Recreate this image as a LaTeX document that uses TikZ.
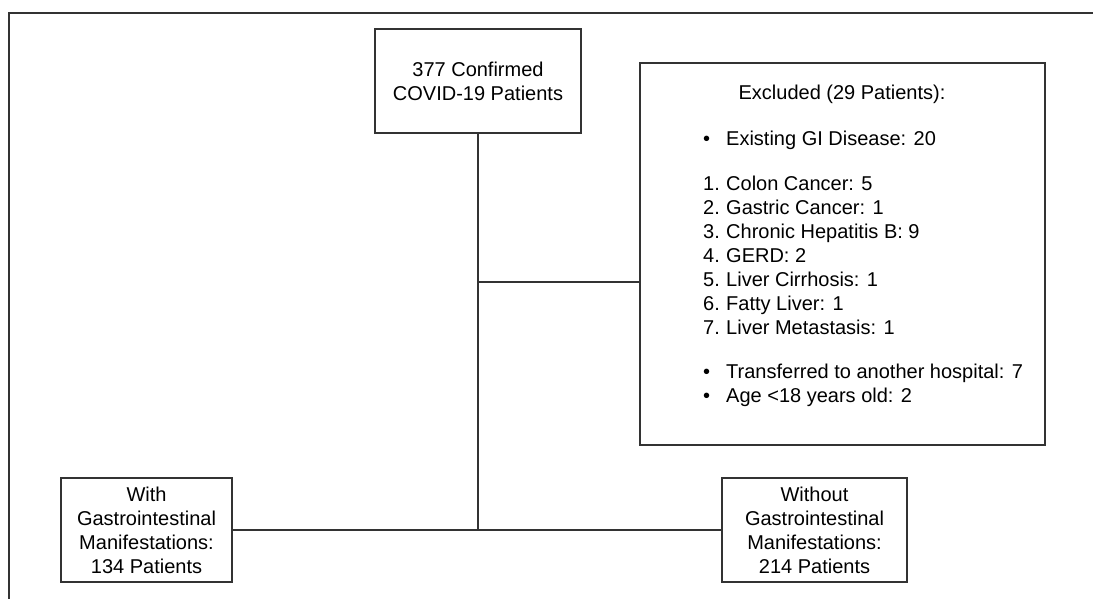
\documentclass[tikz,border=0pt]{standalone}
\usepackage{fontspec}
\setmainfont{Liberation Sans}
\usetikzlibrary{positioning,calc}
\definecolor{linegray}{HTML}{333333}
\tikzset{
  box/.style={draw=linegray,line width=1.2pt,align=center,inner sep=2pt,font=\fontsize{20}{24}\selectfont},
  plain/.style={align=left,inner sep=0pt,font=\fontsize{20}{24}\selectfont},
  link/.style={draw=linegray,line width=1.2pt}
}
\newcommand{\blt}{\makebox[23pt][l]{\hspace{0pt}\textbullet}}
\newcommand{\nmb}[1]{\makebox[23pt][l]{#1.}}

\begin{document}
\begin{tikzpicture}[x=1pt,y=-1pt]
\useasboundingbox (0,0) rectangle (1093,599);
% frame
\draw[line width=2pt,color=linegray] (9,599) -- (9,13) -- (1093,13);
\node[box,minimum width=206pt,minimum height=104pt](total) at (478,81){377 Confirmed\\COVID-19 Patients};
\node[box,minimum width=405pt,minimum height=382pt](excl) at (842.5,254){};
\node[plain,align=center](exclt) at (842,94){Excluded (29 Patients):};
\node[plain,anchor=north west](excll) at (703,131){%
\blt Existing GI Disease: 20\\[21pt]
\nmb{1}Colon Cancer: 5\\
\nmb{2}Gastric Cancer: 1\\
\nmb{3}Chronic Hepatitis B: 9\\
\nmb{4}GERD: 2\\
\nmb{5}Liver Cirrhosis: 1\\
\nmb{6}Fatty Liver: 1\\
\nmb{7}Liver Metastasis: 1\\[20pt]
\blt Transferred to another hospital: 7\\
\blt Age <18 years old: 2};
\node[box,minimum width=171pt,minimum height=104pt](withgi) at (146.5,530){With\\Gastrointestinal\\Manifestations:\\134 Patients};
\node[box,minimum width=185pt,minimum height=104pt](nogi) at (814.5,530){Without\\Gastrointestinal\\Manifestations:\\214 Patients};
% connectors
\coordinate (exj) at (478,282);
\draw[link](total.south) -- (total.south |- withgi.east);
\draw[link](exj) -- (exj -| excl.west);
\draw[link](withgi.east) -- (nogi.west);
\end{tikzpicture}
\end{document}
